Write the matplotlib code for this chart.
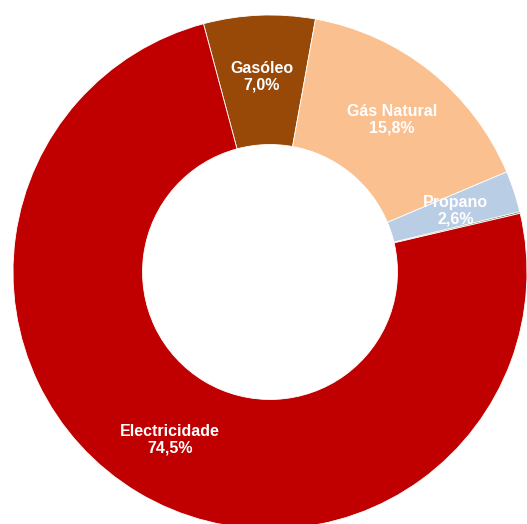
import numpy as np
import matplotlib.pyplot as plt

# Energy consumption shares by source (%)
sources = ['Gasóleo', 'Gás Natural', 'Propano', 'Outros', 'Electricidade']
shares = [7.0, 15.8, 2.6, 0.1, 74.5]
colors = ['#984807', '#FAC090', '#B9CDE5', '#4F6228', '#C00000']
show_label = [True, True, True, False, True]

plt.rcParams['font.family'] = ['Liberation Sans', 'DejaVu Sans']

fig = plt.figure(figsize=(5.27, 5.24), dpi=100)
ax = fig.add_axes([0, 0, 1, 1])

r = 257.0
wedges, _ = ax.pie(shares, colors=colors, startangle=105, counterclock=False,
                   radius=1.0, wedgeprops=dict(width=0.504, edgecolor='white', linewidth=0.6),
                   normalize=True)
ax.set_xlim(-270 / r, (527 - 270) / r)
ax.set_ylim(-(524 - 272) / r, 272 / r)
ax.set_aspect('equal')
ax.axis('off')

for w, name, val, show in zip(wedges, sources, shares, show_label):
    if not show:
        continue
    ang = np.deg2rad((w.theta1 + w.theta2) / 2)
    x, y = 0.76 * np.cos(ang), 0.76 * np.sin(ang)
    ax.text(x, y, f'{name}\n{val:.1f}%'.replace('.', ','), ha='center', va='center',
            color='white', fontsize=11.5, fontweight='bold', linespacing=1.1)

fig.savefig('out.png', dpi=100)
